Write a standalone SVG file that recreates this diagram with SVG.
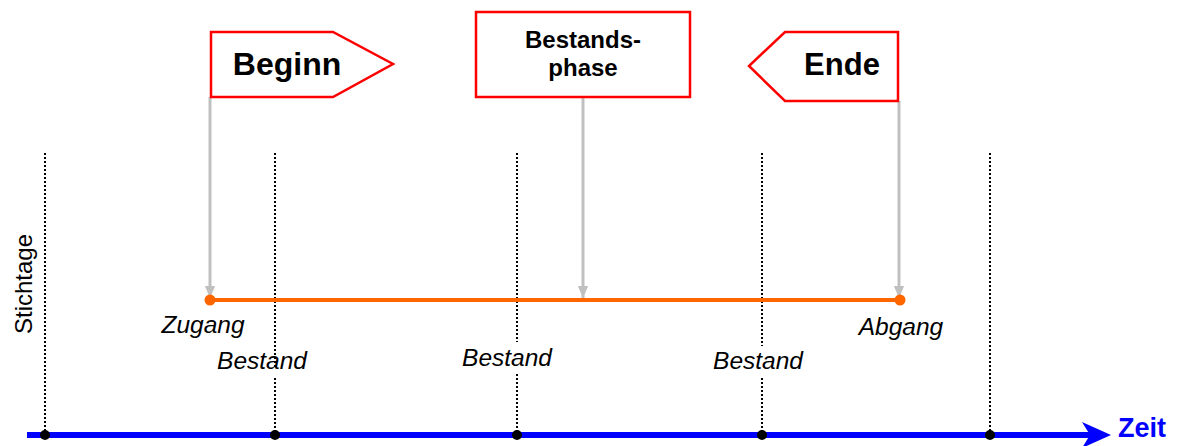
<svg xmlns="http://www.w3.org/2000/svg" width="1177" height="446" viewBox="0 0 1177 446">
<style>
.box{fill:#fff;stroke:#ff0000;stroke-width:2.5}
.bt{font-family:"Liberation Sans",Arial,sans-serif;font-weight:bold;fill:#000}
.it{font-family:"Liberation Sans",Arial,sans-serif;font-style:italic;font-size:24.5px;fill:#000}
.dot{stroke:#000;stroke-width:2;stroke-dasharray:2,2;fill:none}
.gray{stroke:#c0c0c0;stroke-width:3;fill:none}
</style>
<defs>
<marker id="gb" markerWidth="12" markerHeight="14" refX="14" refY="6" orient="auto" markerUnits="userSpaceOnUse" viewBox="0 0 14 12">
<path d="M0,0 L14,6 L0,12 Z" fill="#c0c0c0"/>
</marker>
</defs>
<g id="connectors">
<line class="dot" x1="45" y1="153" x2="45" y2="435"/>
<line class="dot" x1="275" y1="153" x2="275" y2="368"/>
<line class="dot" x1="275" y1="378" x2="275" y2="435"/>
<line class="dot" x1="517" y1="153" x2="517" y2="342"/>
<line class="dot" x1="517" y1="374" x2="517" y2="435"/>
<line class="dot" x1="762" y1="153" x2="762" y2="346"/>
<line class="dot" x1="762" y1="378" x2="762" y2="435"/>
<line class="dot" x1="990" y1="153" x2="990" y2="435"/>
<line class="gray" x1="210" y1="97" x2="210" y2="298" marker-end="url(#gb)"/>
<line class="gray" x1="583" y1="97" x2="583" y2="298" marker-end="url(#gb)"/>
<line class="gray" x1="899" y1="101" x2="899" y2="298" marker-end="url(#gb)"/>
<line x1="210" y1="300" x2="900" y2="300" stroke="#ff6600" stroke-width="4"/>
<circle cx="210" cy="300" r="5.5" fill="#ff6600"/>
<circle cx="900" cy="300" r="5.5" fill="#ff6600"/>
<line x1="27" y1="435" x2="1090" y2="435" stroke="#0000ff" stroke-width="6"/>
<path d="M1082,422 L1111,435 L1082,448 L1090,435 Z" fill="#0000ff"/>
<circle cx="45" cy="435" r="5" fill="#000"/>
<circle cx="275" cy="435" r="5" fill="#000"/>
<circle cx="517" cy="435" r="5" fill="#000"/>
<circle cx="762" cy="435" r="5" fill="#000"/>
<circle cx="990" cy="435" r="5" fill="#000"/>
</g>
<g id="beginn">
<path class="box" d="M211,32 L333,32 L393,64 L333,97 L211,97 Z"/>
<text class="bt" x="287" y="75" font-size="32" text-anchor="middle">Beginn</text>
</g>
<g id="bestandsphase">
<rect class="box" x="476" y="12" width="214" height="85"/>
<text class="bt" x="583" y="48" font-size="24" text-anchor="middle">Bestands-</text>
<text class="bt" x="583" y="76" font-size="24" text-anchor="middle">phase</text>
</g>
<g id="ende">
<path class="box" d="M898,32 L785,32 L749,66 L785,101 L898,101 Z"/>
<text class="bt" x="842" y="75" font-size="31" text-anchor="middle">Ende</text>
</g>
<g id="labels">
<text class="it" x="203" y="333" text-anchor="middle">Zugang</text>
<text class="it" x="901" y="335" text-anchor="middle">Abgang</text>
<text class="it" x="262" y="369" text-anchor="middle">Bestand</text>
<text class="it" x="507" y="366" text-anchor="middle">Bestand</text>
<text class="it" x="758" y="369" text-anchor="middle">Bestand</text>
<text font-family="'Liberation Sans',Arial,sans-serif" font-size="24" transform="translate(32 284) rotate(-90)" text-anchor="middle">Stichtage</text>
<text class="bt" x="1118" y="437" font-size="27" style="fill:#0000ff">Zeit</text>
</g>
</svg>
